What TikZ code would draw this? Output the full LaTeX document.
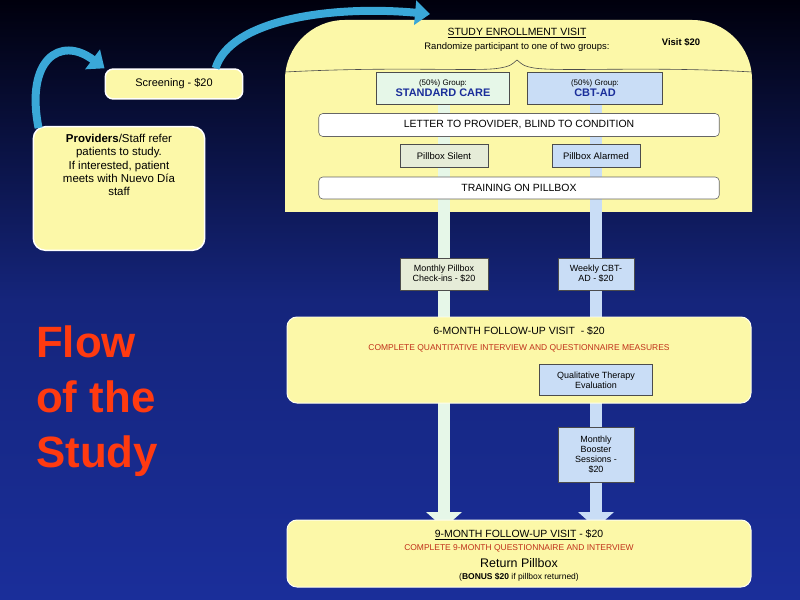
\documentclass[tikz,border=0pt]{standalone}
\usepackage{fontspec}
\setmainfont{Liberation Sans}
\usetikzlibrary{arrows.meta,decorations.pathreplacing}
\definecolor{yel}{HTML}{FCF8A8}
\definecolor{pgreen}{HTML}{E6F7E8}
\definecolor{pblue}{HTML}{C9DDF6}
\definecolor{sgreen}{HTML}{E6ECD8}
\definecolor{dblue}{HTML}{1A2E9A}
\definecolor{arr}{HTML}{3AA8D8}
\definecolor{redt}{HTML}{C0301A}
\definecolor{flow}{HTML}{FF3A10}
\tikzset{
 box/.style={draw=black!70,line width=0.6pt,inner sep=2pt,align=center,font=\fontsize{9}{10}\selectfont},
 wide/.style={draw=black!60,fill=white,rounded corners=4pt,line width=0.6pt,font=\fontsize{10.5}{11}\selectfont},
 visit/.style={fill=yel,rounded corners=10pt,draw=white!80!yel,line width=1pt},
 flowarr/.style={line width=8pt,draw=arr,-{Triangle[length=15pt,width=24pt]}},
}
\begin{document}
\begin{tikzpicture}[x=1bp,y=-1bp]
\shade[top color=black!95!blue,bottom color=dblue,middle color=dblue!80!black] (0,0) rectangle (800,600);
\useasboundingbox (0,0) rectangle (800,600);
% enrollment shape
\fill[yel] (285,212) [rounded corners=60pt]-- (285,20) -- (752,20) [sharp corners]-- (752,212) -- cycle;
\draw[black!70,line width=0.6pt] (285,72) .. controls (400,66) and (480,72) .. (500,68) .. controls (510,66) .. (517,60) .. controls (524,66) .. (534,68) .. controls (560,72) and (650,66) .. (752,72);
\node[font=\fontsize{10.5}{11}\selectfont] (ttl) at (517,33) {\underline{STUDY ENROLLMENT VISIT}};
\node[font=\fontsize{9.5}{11}\selectfont] (rnd) at (517,47) {Randomize participant to one of two groups:};
\node[font=\bfseries\fontsize{9.5}{11}\selectfont] (v20) at (681,42) {Visit \$20};
% bars
\fill[pgreen] (438,104) rectangle (450,512);
\fill[pblue] (590,104) rectangle (602,512);
\fill[pgreen] (426,512) -- (462,512) -- (444,528) -- cycle;
\fill[pblue] (578,512) -- (614,512) -- (596,528) -- cycle;
% group boxes
\node[box,fill=pgreen,minimum width=134pt,minimum height=32pt] (sc) at (443,88) {{\fontsize{8}{9}\selectfont (50\%) Group:}\\[1pt]{\color{dblue}\bfseries\fontsize{11}{12}\selectfont STANDARD CARE}};
\node[box,fill=pblue,minimum width=136pt,minimum height=32pt] (cbt) at (595,88) {{\fontsize{8}{9}\selectfont (50\%) Group:}\\[1pt]{\color{dblue}\bfseries\fontsize{11}{12}\selectfont CBT-AD}};
\node[wide,minimum width=402pt,minimum height=23pt] (let) at (519,125) {LETTER TO PROVIDER, BLIND TO CONDITION};
\node[box,fill=sgreen,minimum width=88pt,minimum height=23pt,font=\fontsize{9.5}{10}\selectfont] (ps) at (444,156) {Pillbox Silent};
\node[box,fill=pblue,minimum width=88pt,minimum height=23pt,font=\fontsize{9.5}{10}\selectfont] (pa) at (596,156) {Pillbox Alarmed};
\node[wide,minimum width=402pt,minimum height=22pt] (tr) at (519,188) {TRAINING ON PILLBOX};
\node[box,fill=sgreen,minimum width=88pt,minimum height=32pt] (mp) at (444,274) {Monthly Pillbox\\Check-ins - \$20};
\node[box,fill=pblue,minimum width=76pt,minimum height=32pt] (wc) at (596,274) {Weekly CBT-\\AD - \$20};
% 6 month
\draw[visit] (287,317) rectangle (751,403);
\node[font=\fontsize{10.5}{11}\selectfont] (m6) at (519,331) {6-MONTH FOLLOW-UP VISIT\ \ - \$20};
\node[font=\fontsize{8.5}{9}\selectfont,text=redt] (q6) at (519,348) {COMPLETE QUANTITATIVE INTERVIEW AND QUESTIONNAIRE MEASURES};
\node[box,fill=pblue,minimum width=113pt,minimum height=31pt] (qt) at (596,380) {Qualitative Therapy\\Evaluation};
\node[box,fill=pblue,minimum width=76pt,minimum height=55pt] (mb) at (596,455) {Monthly\\Booster\\Sessions -\\\$20};
% 9 month
\draw[visit] (287,520) rectangle (751,587);
\node[font=\fontsize{10.5}{11}\selectfont] (m9) at (519,535) {\underline{9-MONTH FOLLOW-UP VISIT} - \$20};
\node[font=\fontsize{8.5}{9}\selectfont,text=redt] (q9) at (519,548) {COMPLETE 9-MONTH QUESTIONNAIRE AND INTERVIEW};
\node[font=\fontsize{12.5}{13}\selectfont] (rp) at (519,563) {Return Pillbox};
\node[font=\fontsize{8.5}{9}\selectfont] (bn) at (519,577) {(\textbf{BONUS \$20} if pillbox returned)};
% left side
\node[draw=white,line width=1.5pt,fill=yel,rounded corners=8pt,minimum width=138pt,minimum height=30pt,font=\fontsize{11}{12}\selectfont] (scr) at (174,84) {Screening - \$20};
\node[draw=white,line width=1.5pt,fill=yel,rounded corners=12pt,minimum width=172pt,minimum height=124pt,align=center,font=\fontsize{11.5}{13.5}\selectfont,anchor=north] (prov) at (119,126) {\textbf{Providers}/Staff refer\\patients to study.\\If interested, patient\\meets with Nuevo Día\\staff\\[34pt]};
\coordinate (top) at (430,14);
\draw[flowarr] (prov.north west) ++(6,2) .. controls (25,60) and (60,35) .. (scr.north west);
\draw[flowarr] ([xshift=-28pt]scr.north east) .. controls (230,20) and (330,5) .. (top);
\node[anchor=north west,align=left,text=flow,font=\bfseries\fontsize{44}{55}\selectfont,inner sep=0pt] (fl) at (36,326) {Flow\\of the\\Study};
\end{tikzpicture}
\end{document}
